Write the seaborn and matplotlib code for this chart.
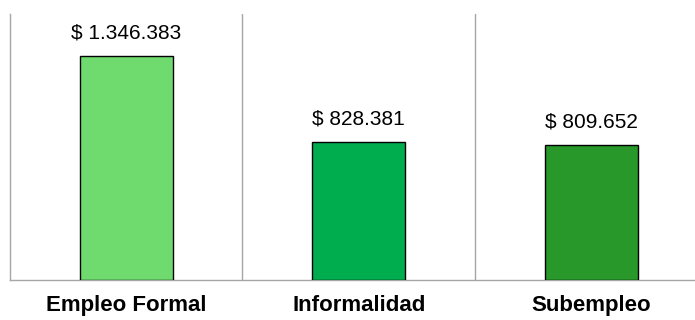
import matplotlib
matplotlib.use("Agg")
import matplotlib.pyplot as plt
import seaborn as sns
import pandas as pd

categorias = ["Empleo Formal", "Informalidad", "Subempleo"]
ingresos = [1346383, 828381, 809652]
etiquetas = ["$ 1.346.383", "$ 828.381", "$ 809.652"]
colores = ["#6fdb6f", "#00ad4e", "#28982a"]

sns.set_style("white")
plt.rcParams["font.family"] = ["Liberation Sans", "DejaVu Sans"]

df = pd.DataFrame({"categoria": categorias, "ingreso": ingresos})

fig = plt.figure(figsize=(6.95, 3.2), dpi=100)
ax = fig.add_axes([10 / 695, 40 / 320, 697.5 / 695, 266 / 320])

sns.barplot(data=df, x="categoria", y="ingreso", hue="categoria",
            palette=colores, saturation=1, width=0.4, edgecolor="black",
            linewidth=1.0, legend=False, ax=ax, zorder=3)

ax.set_xlim(-0.5, 2.5)
ax.set_ylim(0, 1.6e6)

# separators between categories
for xb in [0.5, 1.5]:
    ax.axvline(xb, color="#a6a6a6", linewidth=1.0, zorder=1)

for s in ["top", "right"]:
    ax.spines[s].set_visible(False)
for s in ["left", "bottom"]:
    ax.spines[s].set_color("#a6a6a6")
    ax.spines[s].set_linewidth(1.0)

ax.set_yticks([])
ax.set_xlabel("")
ax.set_ylabel("")
ax.tick_params(axis="x", length=0, pad=11, colors="black")
ax.set_xticks(range(len(categorias)))
ax.set_xticklabels(categorias, fontsize=16, fontweight="bold", color="black")

for i, (v, t) in enumerate(zip(ingresos, etiquetas)):
    ax.annotate(t, (i, v), xytext=(0, 17), textcoords="offset points",
                ha="center", va="center", fontsize=15, color="black")

fig.savefig("out.png", dpi=100)
